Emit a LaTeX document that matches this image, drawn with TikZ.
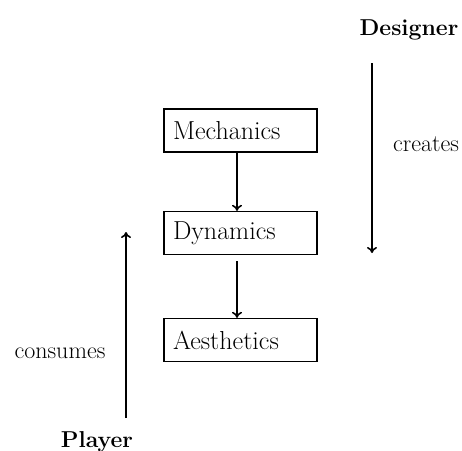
\documentclass[tikz,border=0pt]{standalone}
\usepackage{fontspec}
\usetikzlibrary{arrows.meta}
\begin{document}
\begin{tikzpicture}[x=1pt,y=-1pt,
  layer/.style={draw, line width=1.3pt, minimum width=153pt, minimum height=43pt,
    inner sep=0pt, font=\fontsize{26}{29}\selectfont, text width=135pt, align=left},
  flow/.style={line width=2pt, -{To[length=6pt,width=10pt,line width=1.6pt]}},
  role/.style={font=\fontsize{23}{26}\selectfont\bfseries, anchor=base},
  verb/.style={font=\fontsize{24}{27}\selectfont}]
\useasboundingbox (0,0) rectangle (462,450);
\node[layer] (mech) at (240.5,130.5) {Mechanics};
\node[layer] (dyn)  at (240.5,233) {Dynamics};
\node[layer] (aes)  at (240.5,340) {Aesthetics};
\draw[flow] (mech.south -| 237,0) -- (dyn.north -| 237,0);
\draw[flow] ([yshift=-6pt]dyn.south -| 237,0) -- (aes.north -| 237,0);
\node[role] (designer) at (409,35) {Designer};
\node[role] (player) at (97,447) {Player};
\coordinate (dtop) at (372,63);
\coordinate (dbot) at (372,253);
\coordinate (pbot) at (126,418);
\coordinate (ptop) at (126,232);
\draw[flow, line width=1.6pt] (dtop) -- (dbot);
\draw[flow] (pbot) -- (ptop);
\node[verb] (creates) at (426,144) {creates};
\node[verb] (consumes) at (60,353) {consumes};
\end{tikzpicture}
\end{document}
